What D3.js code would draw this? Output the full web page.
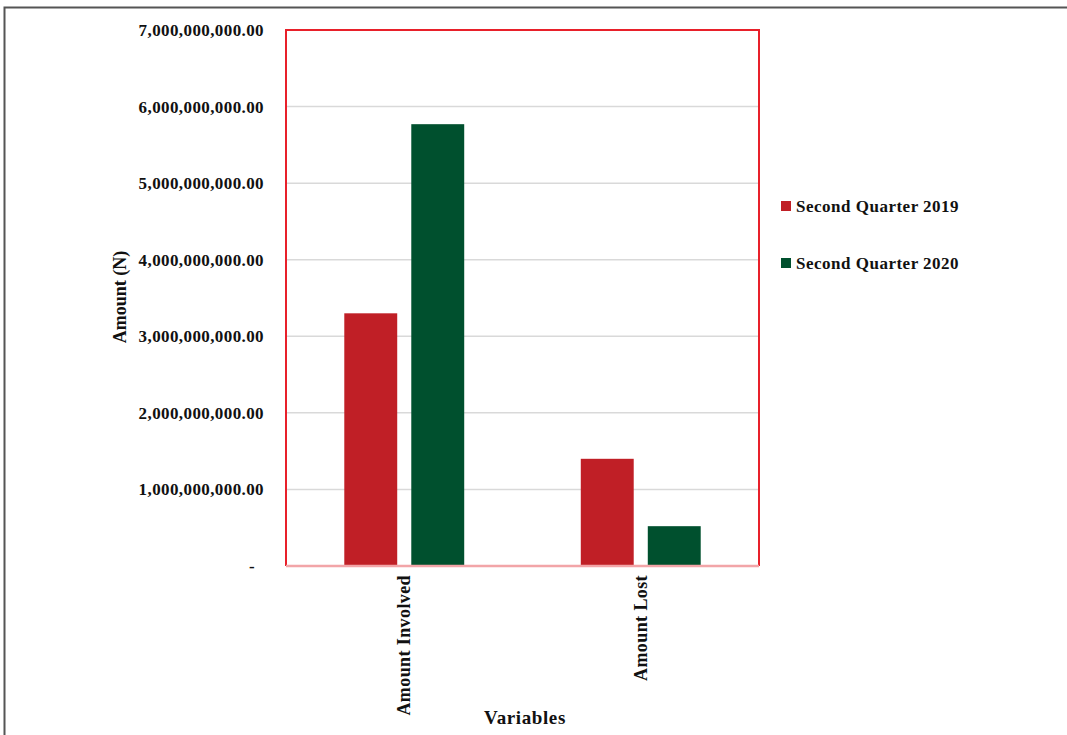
<!DOCTYPE html>
<html>
<head>
<meta charset="utf-8">
<script src="https://cdn.jsdelivr.net/npm/d3@7"></script>
<style>
  body { margin: 0; background: #fff; }
  text { font-family: "Book Antiqua", "Palatino Linotype", "Liberation Serif", "DejaVu Serif", serif; font-weight: bold; fill: #111; }
</style>
</head>
<body>
<svg width="1067" height="735"></svg>
<script>
// data
const categories = ["Amount Involved", "Amount Lost"];
const seriesNames = ["Second Quarter 2019", "Second Quarter 2020"];
const q2019 = [3300000000, 1400000000];
const q2020 = [5770000000, 520000000];
const yTicks = [0, 1e9, 2e9, 3e9, 4e9, 5e9, 6e9, 7e9];
const colors = ["#c01f26", "#00502e"];

const svg = d3.select("svg");

// outer frame
svg.append("path")
  .attr("d", "M4.5,740 L4.5,7.5 L1070,7.5")
  .attr("fill", "none").attr("stroke", "#555").attr("stroke-width", 2);

const pLeft = 286, pRight = 759, pTop = 30, pBottom = 566;

const x = d3.scaleBand().domain(categories).range([pLeft, pRight]);
const xs = d3.scaleBand().domain(seriesNames).range([0, x.bandwidth()]).paddingInner(0.21).paddingOuter(0.87);
const y = d3.scaleLinear().domain([0, 7e9]).range([pBottom, pTop]);

// gridlines
svg.append("g").selectAll("line").data(yTicks.slice(1)).enter().append("line")
  .attr("x1", pLeft).attr("x2", pRight)
  .attr("y1", d => y(d)).attr("y2", d => y(d))
  .attr("stroke", "#d9d9d9").attr("stroke-width", 1.5);

// y axis labels
const fmt = d3.format(",.2f");
const yAxis = d3.axisLeft(y).tickValues(yTicks).tickSize(0).tickPadding(22)
  .tickFormat(d => d === 0 ? "-" : fmt(d));
const yg = svg.append("g").attr("transform", `translate(${pLeft},0)`).call(yAxis);
yg.select(".domain").remove();
yg.selectAll("text").attr("font-size", 17).attr("font-family", null).attr("letter-spacing", 0.4);
yg.selectAll(".tick").filter(d => d === 0).select("text").attr("dx", -9);

// bars
const rows = categories.map((c, i) => ({ cat: c, vals: [q2019[i], q2020[i]] }));
const grp = svg.append("g").selectAll("g").data(rows).enter().append("g")
  .attr("transform", d => `translate(${x(d.cat)},0)`);
grp.selectAll("rect").data(d => d.vals.map((v, j) => ({ name: seriesNames[j], v, j }))).enter().append("rect")
  .attr("x", d => xs(d.name)).attr("width", xs.bandwidth())
  .attr("y", d => y(d.v)).attr("height", d => y(0) - y(d.v))
  .attr("fill", d => colors[d.j]);

// plot border
svg.append("path")
  .attr("d", `M${pLeft},${pBottom} L${pLeft},${pTop} L${pRight},${pTop} L${pRight},${pBottom}`)
  .attr("fill", "none").attr("stroke", "#e8202a").attr("stroke-width", 2);
svg.append("line")
  .attr("x1", pLeft).attr("x2", pRight).attr("y1", pBottom).attr("y2", pBottom)
  .attr("stroke", "#f2a5a8").attr("stroke-width", 2.5);

// category labels
svg.append("g").selectAll("text").data(categories).enter().append("text")
  .attr("transform", d => `translate(${x(d) + x.bandwidth() / 2 + 6},575) rotate(-90)`)
  .attr("text-anchor", "end").attr("font-size", 18).attr("letter-spacing", 0.4)
  .text(d => d);

// axis titles
svg.append("text").attr("x", 525).attr("y", 724).attr("text-anchor", "middle")
  .attr("font-size", 19).attr("letter-spacing", 0.6).text("Variables");
svg.append("text").attr("transform", "translate(126,297) rotate(-90)")
  .attr("text-anchor", "middle").attr("font-size", 18).text("Amount (N)");

// legend
const lg = svg.append("g").selectAll("g").data(seriesNames).enter().append("g")
  .attr("transform", (d, i) => `translate(781,${201 + i * 57})`);
lg.append("rect").attr("width", 10).attr("height", 10).attr("fill", (d, i) => colors[i]);
lg.append("text").attr("x", 15).attr("y", 10.5).attr("font-size", 17).attr("letter-spacing", 0.5).text(d => d);
</script>
</body>
</html>
